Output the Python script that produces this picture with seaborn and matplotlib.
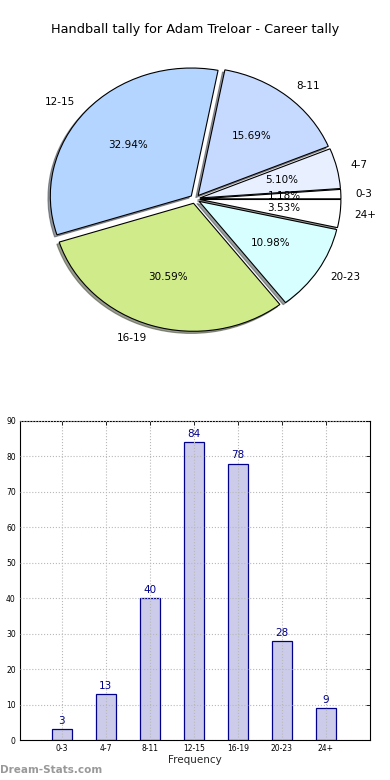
import matplotlib
matplotlib.use("Agg")
import matplotlib.pyplot as plt
import seaborn as sns
import pandas as pd

# handball tally data
bins = ['0-3', '4-7', '8-11', '12-15', '16-19', '20-23', '24+']
counts = [3, 13, 40, 84, 78, 28, 9]
pie_colors = ['#ffffff', '#e8f0ff', '#c6d9ff', '#b3d5ff', '#d0eb8a', '#d8ffff', '#ffffff']
yticks = [0, 10, 20, 30, 40, 50, 60, 70, 80, 90]

sns.set_theme(style='white')
plt.rcParams['font.family'] = ['DejaVu Sans']

fig = plt.figure(figsize=(3.9, 7.8), dpi=100)
fig.patch.set_facecolor('white')

# ---- pie (old style, not forced round) ----
rx, ry = 141.0, 128.0   # px per data unit
cx, cy = 195.0, 199.0
W, H = 340.0, 320.0
ax_pie = fig.add_axes([(cx - W / 2) / 390, (780 - cy - H / 2) / 780, W / 390, H / 780])
wedges, texts, autotexts = ax_pie.pie(
    counts, labels=bins, colors=pie_colors, explode=[0.035] * len(counts),
    autopct='%1.2f%%', shadow={'ox': -0.012, 'oy': -0.012, 'shade': 0.75},
    startangle=0, radius=1.0,
    wedgeprops={'edgecolor': 'black', 'linewidth': 0.8},
    textprops={'fontsize': 7.5, 'color': 'black'})
ax_pie.set_aspect('auto')
ax_pie.set_xlim(-W / 2 / rx, W / 2 / rx)
ax_pie.set_ylim(-H / 2 / ry, H / 2 / ry)
ax_pie.axis('off')

fig.text(0.5, 1 - 30 / 780, 'Handball tally for Adam Treloar - Career tally',
         ha='center', va='center', fontsize=9.3, color='black')

# ---- bars ----
ax = fig.add_axes([20 / 390, (780 - 740) / 780, 350 / 390, 319 / 780])
df = pd.DataFrame({'bin': bins, 'count': counts})
sns.barplot(data=df, x='bin', y='count', ax=ax, color='#ccccea', width=0.44,
            edgecolor='#00008b', linewidth=0.9, saturation=1)
for i, c in enumerate(counts):
    ax.text(i, c + 0.9, str(c), ha='center', va='bottom', fontsize=7.5, color='#00008b')

ax.set_xlim(-0.95, 7.0)
ax.set_ylim(0, 90)
ax.set_yticks(yticks)
ax.grid(True, linestyle=':', color='#b8b8b8', linewidth=0.8)
ax.set_axisbelow(False)
for s in ax.spines.values():
    s.set_color('black')
    s.set_linewidth(0.8)
ax.tick_params(direction='in', top=True, right=True, length=3, width=0.6,
               labelsize=5.5, pad=3, colors='black')
ax.set_xlabel('Frequency', fontsize=7.5, labelpad=1)
ax.set_ylabel('')

fig.text(0.0, 1 - 770 / 780, 'Dream-Stats.com', ha='left', va='center',
         fontsize=7.5, color='#999999', fontweight='bold')

fig.savefig('out.png', dpi=100, facecolor='white')
